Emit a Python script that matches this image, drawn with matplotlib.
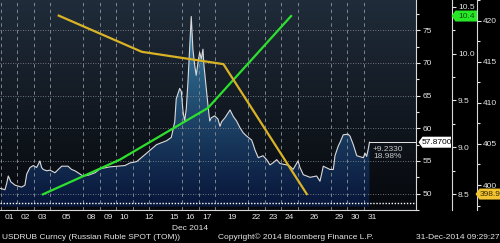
import numpy as np
import matplotlib
matplotlib.use("Agg")
import matplotlib.pyplot as plt
from matplotlib.patches import Polygon

plt.rcParams['font.family'] = ['Liberation Sans', 'DejaVu Sans']
FS = 6.0

# USDRUB spot, x in trading days since 01 Dec (fractional = intraday)
rub_x = [0.00, 0.26, 0.36, 0.46, 0.62, 0.87, 1.27, 1.47, 1.58, 1.78, 1.98, 2.18,
         2.38, 2.48, 2.58, 2.79, 2.99, 3.29, 3.49, 3.70, 4.08, 4.30, 4.50, 4.81,
         4.99, 5.29, 5.72, 6.02, 6.62, 7.53, 7.84, 8.24, 8.85, 9.45, 10.06, 10.34,
         10.55, 10.64, 10.85, 10.95, 11.05, 11.15, 11.25, 11.35, 11.45, 11.55, 11.65,
         11.76, 11.85, 11.96, 12.06, 12.16, 12.26, 12.32, 12.46, 12.56, 12.67, 12.76,
         12.97, 13.17, 13.29, 13.39, 13.59, 13.90, 14.10, 14.30, 14.50, 14.70, 14.91,
         15.21, 15.31, 15.41, 15.61, 15.90, 16.12, 16.32, 16.50, 16.73, 16.93, 17.33,
         17.53, 17.72, 18.02, 18.14, 18.34, 18.75, 19.15, 19.35, 19.45, 19.55, 19.96,
         20.16, 20.26, 20.46, 20.56, 20.76, 21.05, 21.17, 21.37, 21.58, 21.98, 22.08,
         22.18, 22.29, 22.35]
rub_y = [50.8, 50.6, 51.5, 52.7, 51.8, 51.3, 51.0, 51.3, 53.0, 54.0, 54.3, 54.0,
         55.0, 54.0, 53.7, 53.5, 53.6, 53.2, 53.7, 54.2, 54.2, 53.7, 53.5, 53.0,
         52.7, 52.8, 53.2, 53.8, 54.1, 54.3, 54.7, 54.9, 56.2, 57.5, 58.1, 58.6,
         61.0, 64.5, 66.1, 65.6, 62.6, 61.1, 63.0, 67.1, 72.1, 77.1, 72.1,
         69.6, 68.1, 70.1, 71.6, 70.6, 72.1, 69.6, 66.1, 63.6, 61.1, 61.6,
         61.9, 61.4, 60.3, 61.0, 61.6, 62.8, 61.8, 61.1, 60.1, 59.3, 58.8,
         58.2, 57.5, 56.7, 55.5, 55.8, 55.2, 54.4, 54.7, 55.2, 54.6, 54.4,
         54.2, 53.7, 55.0, 54.0, 52.9, 52.5, 52.7, 51.9, 53.0, 54.2, 53.7,
         53.7, 55.8, 57.3, 57.8, 59.0, 59.1, 58.8, 57.5, 55.8, 55.5, 56.2,
         55.7, 57.0, 57.87]
last_px = 57.87
change = 9.2330
change_pct = 18.98
low_line = 48.64

green_x = [2.56, 7.23, 12.56, 17.60]
green_y = [8.50, 8.87, 9.42, 10.40]
yellow_x = [3.52, 8.55, 13.50, 18.55]
yellow_y = [420.6, 416.2, 414.7, 398.9]

tick_pos = [0.5, 1.5, 2.5, 4.0, 5.5, 6.5, 7.5, 9.0, 10.5, 11.5, 12.5, 14.0,
            15.5, 16.5, 17.5, 19.0, 20.5, 21.5, 22.5]
tick_lab = ['01', '02', '03', '05', '08', '09', '10', '12', '15', '16', '17', '19',
            '22', '23', '24', '26', '29', '30', '31']

W, H = 500, 243
fig = plt.figure(figsize=(5, 2.43), dpi=100, facecolor='black')
ax = fig.add_axes([0, 33 / H, 416 / W, 210 / H])
ax2 = ax.twinx()
ax3 = ax.twinx()
ax.set_xlim(-0.04, 25.17)
ax.set_ylim(48.0, 79.62)

# background gradient
g = np.linspace(0, 1, 256)[:, None, None]
c_top = np.array([32, 44, 58]) / 255
c_bot = np.array([6, 8, 12]) / 255
bg_img = (c_bot + (c_top - c_bot) * g) * np.ones((1, 2, 1))
ax.imshow(bg_img, extent=[0, 1, 0, 1], origin='lower',
          transform=ax.transAxes, aspect='auto', zorder=0)

# gradient fill under spot
fill_top = np.array([62, 140, 175]) / 255
fill_bot = np.array([8, 22, 58]) / 255
fill_img = (fill_bot + (fill_top - fill_bot) * g ** 1.1) * np.ones((1, 2, 1))
im = ax.imshow(fill_img, extent=[-0.04, 25.17, 48.0, 79.62], origin='lower',
               aspect='auto', zorder=1)
clip = Polygon(np.column_stack([rub_x + [rub_x[-1], rub_x[0]],
                                rub_y + [48.0, 48.0]]), transform=ax.transData)
im.set_clip_path(clip)

# grid
for v in [50, 55, 60, 65, 70, 75]:
    ax.axhline(v, color='#8c939c', lw=0.6, ls=(0, (1, 2)), zorder=2)
for d in range(0, 23):
    if d in (4, 10, 14, 19):
        continue
    ax.axvline(d, color='#7d858e', lw=0.7, ls=(0, (3.5, 3.5)), zorder=2)
ax.axhline(low_line, color='white', lw=1.0, ls=(0, (1, 1.2)), zorder=3)

ax.plot(rub_x, rub_y, color='#dadada', lw=0.8, zorder=4)
ax.plot([rub_x[-1], 25.17], [last_px, last_px], color='#e8e8e8', lw=0.7, zorder=4)
ax.annotate(f"+{change:.4f}\n{change_pct:.2f}%", xy=(rub_x[-1], last_px),
            xytext=(2.5, -2.5), textcoords='offset points', ha='left', va='top',
            color='#c8c8c8', fontsize=FS, linespacing=1.05, zorder=6)

# x axis
ax.set_xticks(tick_pos, tick_lab)
ax.tick_params(axis='x', length=0, pad=3, labelsize=FS, colors='#e6e6e6')
ax.yaxis.tick_right()
ax.set_yticks([50, 55, 60, 65, 70, 75])
ax.set_yticks(np.arange(47.5, 79, 2.5), minor=True)
ax.tick_params(axis='y', which='major', direction='out', length=3, width=0.8,
               colors='#e6e6e6', labelsize=FS, pad=1.5)
ax.tick_params(axis='y', which='minor', direction='out', length=2.5, width=0.8,
               colors='#e6e6e6')
for s in ['top', 'left']:
    ax.spines[s].set_visible(False)
ax.spines['right'].set_color('#d8d8d8')
ax.spines['bottom'].set_color('#d8d8d8')
ax.spines['right'].set_linewidth(0.8)
ax.spines['bottom'].set_linewidth(0.8)

# green axis
ax2.set_ylim(8.333, 10.571)
ax2.spines['right'].set_position(('axes', 451.7 / 416))
for s in ['top', 'left', 'bottom']:
    ax2.spines[s].set_visible(False)
ax2.spines['right'].set_color('#d8d8d8')
ax2.spines['right'].set_linewidth(0.8)
ax2.set_yticks([8.5, 9.0, 9.5, 10.0, 10.5], ['8.5', '9.0', '9.5', '10.0', '10.5'])
ax2.set_yticks(np.arange(8.5, 10.6, 0.25), minor=True)
ax2.tick_params(axis='y', which='major', direction='out', length=3, width=0.8,
                colors='#e6e6e6', labelsize=FS, pad=1.5)
ax2.tick_params(axis='y', which='minor', direction='out', length=2.5, width=0.8,
                colors='#e6e6e6')
ax2.plot(green_x, green_y, color='#2ee02e', lw=1.6, zorder=5)

# yellow axis
ax3.set_ylim(396.96, 422.5)
ax3.spines['right'].set_position(('axes', 476.7 / 416))
for s in ['top', 'left', 'bottom']:
    ax3.spines[s].set_visible(False)
ax3.spines['right'].set_color('#d8d8d8')
ax3.spines['right'].set_linewidth(0.8)
ax3.set_yticks([400, 405, 410, 415, 420])
ax3.set_yticks(np.arange(397.5, 422.6, 2.5), minor=True)
ax3.tick_params(axis='y', which='major', direction='out', length=3, width=0.8,
                colors='#e6e6e6', labelsize=FS, pad=1.5)
ax3.tick_params(axis='y', which='minor', direction='out', length=2.5, width=0.8,
                colors='#e6e6e6')
ax3.plot(yellow_x, yellow_y, color='#d9b226', lw=1.6, zorder=5)


def tag(axis, value, text, x0, x1, face, fg):
    # arrow-shaped value tag on the right axes, x in pixels
    yf = fig.transFigure.inverted().transform(axis.transData.transform((0, value)))[1]
    h = 5.5 / H
    tip = 4 / W
    xs0, xs1 = x0 / W, x1 / W
    p = Polygon([[xs0, yf], [xs0 + tip, yf + h], [xs1, yf + h], [xs1, yf - h],
                 [xs0 + tip, yf - h]], closed=True, transform=fig.transFigure,
                facecolor=face, edgecolor='none', zorder=10)
    fig.add_artist(p)
    fig.text((xs0 + tip + xs1) / 2, yf, text, ha='center', va='center',
             color=fg, fontsize=FS, zorder=11)


tag(ax, last_px, f"{last_px:.4f}", 418.5, 451, 'white', 'black')
tag(ax2, green_y[-1], f"{green_y[-1]:.1f}", 451.5, 477, '#27e827', '#0c4a0c')
tag(ax3, yellow_y[-1], f"{yellow_y[-1]:.1f}", 475.5, 500, '#f2c431', '#3a2a00')

fig.text(190 / W, 1 - 228 / H, 'Dec 2014', ha='center', va='center',
         color='#e6e6e6', fontsize=FS)
fig.text(2 / W, 1 - 237.5 / H, 'USDRUB Curncy (Russian Ruble SPOT (TOM))',
         ha='left', va='center', color='#e6e6e6', fontsize=FS)
fig.text(218 / W, 1 - 237.5 / H, 'Copyright\u00a9 2014 Bloomberg Finance L.P.',
         ha='left', va='center', color='#e6e6e6', fontsize=FS)
fig.text(499 / W, 1 - 237.5 / H, '31-Dec-2014 09:29:27', ha='right', va='center',
         color='#e6e6e6', fontsize=FS)

fig.savefig('out.png', dpi=100, facecolor='black')
